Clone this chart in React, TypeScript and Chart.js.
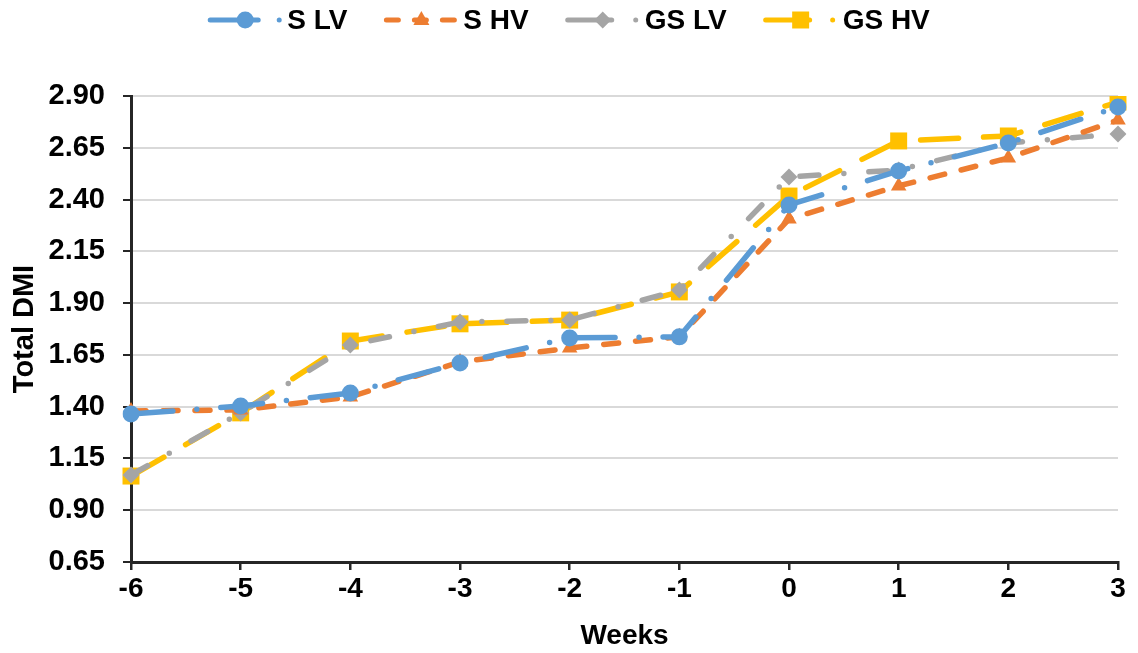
import React, { useEffect, useRef } from "react";
import { Chart, registerables } from "chart.js";

Chart.register(...registerables);

const weeks = ["-6", "-5", "-4", "-3", "-2", "-1", "0", "1", "2", "3"];
const sLV = [1.365, 1.403, 1.466, 1.611, 1.732, 1.737, 2.374, 2.538, 2.673, 2.847];
const sHV = [1.379, 1.384, 1.447, 1.616, 1.683, 1.737, 2.306, 2.466, 2.601, 2.784];
const gsLV = [1.07, 1.37, 1.698, 1.809, 1.818, 1.963, 2.509, 2.543, 2.673, 2.717];
const gsHV = [1.065, 1.37, 1.717, 1.8, 1.818, 1.954, 2.417, 2.683, 2.707, 2.871];

const FONT = "'Liberation Sans', Arial, sans-serif";

const seriesDefs = [
  { label: "S LV", data: sLV, color: "#5B9BD5", dash: [42, 24, 0, 24], legendDash: [48, 21, 0, 30], point: "circle", r: 8.5 },
  { label: "S HV", data: sHV, color: "#ED7D31", dash: [15, 17], legendDash: [12, 16], point: "triangle", r: 9 },
  { label: "GS LV", data: gsLV, color: "#A5A5A5", dash: [19, 25, 0, 25], legendDash: [44, 24, 0, 30], point: "rectRot", r: 8.5 },
  { label: "GS HV", data: gsHV, color: "#FFC000", dash: [38, 25], legendDash: [44, 23, 0, 30], point: "rect", r: 12 },
];

function drawMarker(ctx: CanvasRenderingContext2D, kind: string, cx: number, y: number) {
  ctx.beginPath();
  if (kind === "circle") {
    ctx.arc(cx, y, 8.5, 0, Math.PI * 2);
  } else if (kind === "triangle") {
    ctx.moveTo(cx, y - 9);
    ctx.lineTo(cx + 8, y + 5);
    ctx.lineTo(cx - 8, y + 5);
    ctx.closePath();
  } else if (kind === "rectRot") {
    ctx.moveTo(cx, y - 8.5);
    ctx.lineTo(cx + 8.5, y);
    ctx.lineTo(cx, y + 8.5);
    ctx.lineTo(cx - 8.5, y);
    ctx.closePath();
  } else {
    ctx.rect(cx - 8.5, y - 8.5, 17, 17);
  }
  ctx.fill();
}

const legendPlugin = {
  id: "customLegend",
  afterDraw(chart: any) {
    const ctx = chart.ctx as CanvasRenderingContext2D;
    ctx.save();
    ctx.font = `bold 28px ${FONT}`;
    const symW = 72;
    const textOff = 79;
    const gapItem = 37;
    const widths = seriesDefs.map((s) => textOff + ctx.measureText(s.label).width);
    const total = widths.reduce((a, b) => a + b, 0) + gapItem * (seriesDefs.length - 1);
    let x = (chart.width - total) / 2;
    const y = 20;
    seriesDefs.forEach((s, i) => {
      ctx.strokeStyle = s.color;
      ctx.fillStyle = s.color;
      ctx.lineWidth = 5;
      ctx.lineCap = "round";
      ctx.setLineDash(s.legendDash);
      ctx.beginPath();
      ctx.moveTo(x + 2, y);
      ctx.lineTo(x + symW, y);
      ctx.stroke();
      ctx.setLineDash([]);
      drawMarker(ctx, s.point, x + 37, y);
      ctx.fillStyle = "#000";
      ctx.textBaseline = "middle";
      ctx.textAlign = "left";
      ctx.fillText(s.label, x + textOff, y + 1);
      x += widths[i] + gapItem;
    });
    ctx.restore();
  },
};

export default function App() {
  const ref = useRef<HTMLCanvasElement>(null);
  useEffect(() => {
    document.body.style.margin = "0";
    const chart = new Chart(ref.current!, {
      type: "line",
      data: {
        labels: weeks,
        datasets: seriesDefs.map((s) => ({
          label: s.label,
          data: s.data,
          borderColor: s.color,
          backgroundColor: s.color,
          borderWidth: 5.5,
          borderDash: s.dash,
          borderCapStyle: "round",
          pointStyle: s.point,
          pointRadius: s.r,
          pointBorderWidth: 0,
          pointBackgroundColor: s.color,
          tension: 0,
          fill: false,
        })),
      },
      options: {
        responsive: false,
        animation: false,
        layout: { padding: { top: 96, right: 20, left: 0, bottom: 0 } },
        plugins: {
          legend: { display: false },
          tooltip: { enabled: false },
        },
        scales: {
          x: {
            offset: false,
            afterFit: (scale: any) => {
              scale.height = 91;
            },
            grid: {
              drawOnChartArea: false,
              tickColor: "#262626",
              tickLength: 8,
              lineWidth: 2.5,
            },
            border: { color: "#262626", width: 3 },
            ticks: {
              color: "#000",
              font: { family: FONT, size: 28, weight: "bold" },
              padding: 2,
            },
            title: {
              display: true,
              text: "Weeks",
              color: "#000",
              font: { family: FONT, size: 28, weight: "bold" },
              padding: { top: 15, bottom: 0 },
            },
          },
          y: {
            min: 0.65,
            max: 2.9,
            afterFit: (scale: any) => {
              scale.width = 131;
            },
            ticks: {
              stepSize: 0.25,
              color: "#000",
              font: { family: FONT, size: 29, weight: "bold" },
              callback: (v: any) => Number(v).toFixed(2),
              padding: 18,
            },
            grid: {
              color: "#D9D9D9",
              lineWidth: 2,
              tickColor: "#262626",
              tickLength: 8,
            },
            border: { color: "#262626", width: 3 },
            title: {
              display: true,
              text: "Total DMI",
              color: "#000",
              font: { family: FONT, size: 29, weight: "bold" },
              padding: { top: 8, bottom: 7 },
            },
          },
        },
      },
      plugins: [legendPlugin],
    } as any);
    return () => chart.destroy();
  }, []);
  return (
    <div style={{ width: 1138, height: 653 }}>
      <canvas ref={ref} width={1138} height={653} style={{ display: "block" }} />
    </div>
  );
}
